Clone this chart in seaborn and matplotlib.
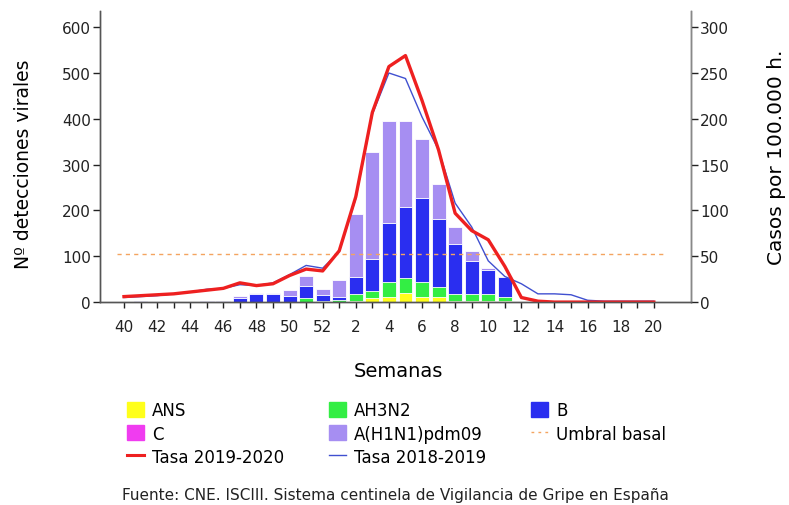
import numpy as np
import matplotlib
matplotlib.use("Agg")
import matplotlib.pyplot as plt
import seaborn as sns
from matplotlib.patches import Patch
from matplotlib.lines import Line2D

# semanas 40..52 y 1..20
weeks = list(range(40, 53)) + list(range(1, 21))
tick_labels = [str(w) if w % 2 == 0 else "" for w in weeks]

#            40 41 42 43 44 45 46 47  48  49  50  51  52  1   2   3    4    5    6    7    8    9   10  11 12 13 14 15 16 17 18 19 20
ans   =     [0, 0, 0, 0, 0, 0, 0, 0,  0,  0,  0,  0,  0,  0,  3,  9,  12,  20,  12,  11,   3,   2,  2,  3, 0, 0, 0, 0, 0, 0, 0, 0, 0]
ah3n2 =     [0, 0, 0, 0, 0, 0, 0, 0,  0,  0,  0,  8,  3,  4, 15, 16,  31,  33,  31,  22,  14,  15, 15,  9, 0, 0, 0, 0, 0, 0, 0, 0, 0]
b     =     [0, 2, 0, 0, 1, 3, 3, 10, 18, 17, 13, 27, 12,  8, 37, 70, 129, 155, 185, 148, 109,  73, 53, 42, 0, 0, 0, 0, 0, 0, 0, 0, 0]
c     =     [0, 0, 0, 0, 0, 0, 0, 0,  0,  0,  0,  0,  0,  0,  0,  0,   0,   0,   0,   0,   0,   0,  0,  0, 0, 0, 0, 0, 0, 0, 0, 0, 0]
h1n1  =     [0, 0, 0, 0, 0, 0, 0, 3,  2,  3, 13, 22, 14, 36,137,233, 224, 188, 127,  76,  38,  22,  5,  0, 0, 0, 0, 0, 0, 0, 0, 0, 0]

tasa_1920 = [6, 7, 8, 9, 11, 13, 15, 21, 18, 20, 29, 36, 34, 56, 115, 207, 257, 269, 220, 166, 97, 78, 68, 39, 5, 1, 0, 0, 0, 0, 0, 0, 0]
tasa_1819 = [5, 6, 7, 9, 11, 14, 15, 19, 18, 21, 30, 40, 37, 55, 113, 205, 250, 244, 202, 166, 108, 82, 45, 28, 20, 9, 9, 8, 2, 1, 1, 1, 1]
umbral = 52

col_ans, col_h3, col_b, col_c, col_h1 = "#ffff1a", "#33ee44", "#2a2ef0", "#f03cf0", "#a68ef2"
col_red, col_blue, col_umb = "#ee2020", "#4050d0", "#f4a460"

plt.rcParams["font.family"] = ["DejaVu Sans"]
fig = plt.figure(figsize=(7.89, 5.06), dpi=100)
ax = fig.add_axes([0.1267, 0.401, 0.749, 0.575])
x = np.arange(len(weeks))

layers = [(ans, col_ans), (ah3n2, col_h3), (b, col_b), (c, col_c), (h1n1, col_h1)]
cum = np.cumsum([np.array(v) for v, _ in layers], axis=0)
# draw from the top layer down so lower layers cover the upper totals
for i in range(len(layers) - 1, -1, -1):
    sns.barplot(x=x, y=cum[i], color=layers[i][1], width=0.84, saturation=1,
                edgecolor="white", linewidth=0.6, ax=ax)

ax2 = ax.twinx()
ax2.hlines(umbral, -0.4, 32.8, colors=col_umb, linestyles=(0, (3, 3)), linewidth=1)
sns.lineplot(x=x, y=tasa_1819, color=col_blue, linewidth=1, ax=ax2)
sns.lineplot(x=x, y=tasa_1920, color=col_red, linewidth=2.4, ax=ax2)

ax.set_xlim(-1.45, 34.24)
ax2.set_xlim(-1.45, 34.24)
ax.set_ylim(0, 635)
ax2.set_ylim(0, 317.5)
ax.set_yticks(range(0, 601, 100))
ax2.set_yticks(range(0, 301, 50))
ax.set_xticks(x)
ax.set_xticklabels(tick_labels)

for a in (ax, ax2):
    a.spines["top"].set_visible(False)
    for s in a.spines.values():
        s.set_color("#555555")
        s.set_linewidth(1)
    a.tick_params(labelsize=11, colors="#222222", length=5, width=1, pad=1.5)
ax2.spines["right"].set_color("#888888")
ax.tick_params(axis="x", length=4, pad=8)

ax.set_ylabel("Nº detecciones virales", fontsize=13.5, va="center")
ax.yaxis.set_label_coords(-0.1286, 0.478)
ax2.set_ylabel("Casos por 100.000 h.", fontsize=14.5, va="center")
ax2.yaxis.set_label_coords(1.1455, 0.50)
ax.set_xlabel("Semanas", fontsize=14, va="center")
ax.xaxis.set_label_coords(0.505, -0.234)

handles = [
    Patch(color=col_ans), Patch(color=col_c), Line2D([], [], color=col_red, lw=2.2),
    Patch(color=col_h3), Patch(color=col_h1), Line2D([], [], color=col_blue, lw=1),
    Patch(color=col_b), Line2D([], [], color=col_umb, lw=1, ls=(0, (2, 3))),
]
labels = ["ANS", "C", "Tasa 2019-2020", "AH3N2", "A(H1N1)pdm09", "Tasa 2018-2019",
          "B", "Umbral basal"]
fig.legend(handles, labels, ncol=3, loc="upper left", bbox_to_anchor=(0.161, 0.2055),
           frameon=False, fontsize=12, handlelength=1.0, handleheight=1.0,
           columnspacing=2.7, labelspacing=0.33, handletextpad=0.5,
           borderpad=0, borderaxespad=0)

fig.text(0.5006, 0.0217, "Fuente: CNE. ISCIII. Sistema centinela de Vigilancia de Gripe en España",
         ha="center", va="center", fontsize=11, color="#222222")

fig.savefig("out.png", dpi=100)
